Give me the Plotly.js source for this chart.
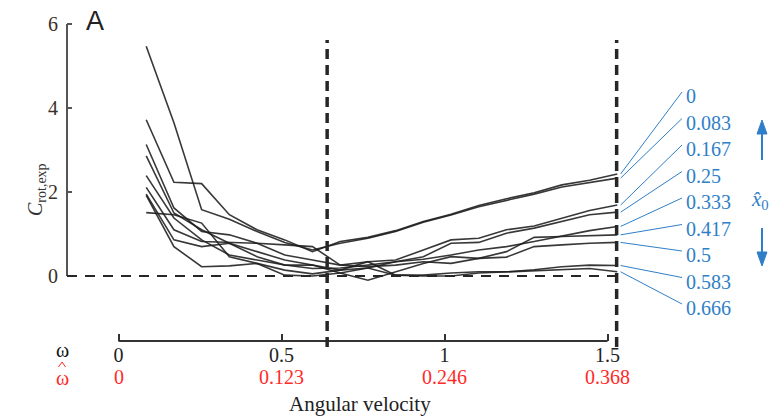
<!DOCTYPE html>
<html>
<head>
<meta charset="utf-8">
<script src="https://cdn.plot.ly/plotly-3.0.1.min.js"></script>
<style>html,body{margin:0;padding:0;background:#fff}#chart{width:770px;height:419px}</style>
</head>
<body>
<div id="chart"></div>
<script>
// angular velocity samples (omega)
const omega = [0.085, 0.17, 0.255, 0.34, 0.425, 0.51, 0.595, 0.68, 0.765, 0.85, 0.935, 1.02, 1.105, 1.19, 1.275, 1.36, 1.445, 1.53];
// C_rot,exp for each x0-hat
const c_x0_000 = [3.72, 2.23, 2.20, 1.46, 1.10, 0.86, 0.58, 0.82, 0.92, 1.08, 1.30, 1.47, 1.68, 1.84, 1.98, 2.17, 2.28, 2.43];
const c_x0_083 = [5.47, 3.65, 1.58, 1.35, 1.06, 0.80, 0.62, 0.78, 0.90, 1.06, 1.28, 1.45, 1.65, 1.80, 1.95, 2.12, 2.22, 2.33];
const c_x0_167 = [3.13, 1.62, 1.06, 0.98, 0.78, 0.50, 0.38, 0.26, 0.34, 0.38, 0.62, 0.86, 0.90, 1.10, 1.19, 1.38, 1.56, 1.69];
const c_x0_250 = [2.86, 1.50, 1.10, 0.78, 0.58, 0.38, 0.26, 0.14, 0.19, 0.34, 0.46, 0.78, 0.80, 1.02, 1.14, 1.30, 1.46, 1.52];
const c_x0_333 = [2.39, 1.38, 0.86, 0.50, 0.38, 0.26, 0.18, 0.19, 0.26, 0.34, 0.40, 0.50, 0.62, 0.70, 0.82, 0.95, 1.08, 1.18];
const c_x0_417 = [2.11, 1.10, 0.82, 0.80, 0.78, 0.74, 0.70, 0.26, 0.22, 0.26, 0.34, 0.30, 0.42, 0.58, 0.92, 0.94, 0.96, 0.98];
const c_x0_500 = [1.95, 0.86, 0.70, 0.78, 0.46, 0.26, 0.26, 0.07, -0.10, 0.10, 0.30, 0.46, 0.42, 0.45, 0.70, 0.74, 0.78, 0.80];
const c_x0_583 = [1.92, 0.70, 0.22, 0.24, 0.30, 0.14, 0.05, 0.14, 0.34, 0.02, 0.02, 0.07, 0.10, 0.10, 0.15, 0.22, 0.26, 0.25];
const c_x0_666 = [1.51, 1.46, 1.26, 0.46, 0.30, 0.02, 0.00, 0.07, 0.19, 0.02, 0.00, 0.00, 0.07, 0.10, 0.12, 0.16, 0.18, 0.10];
const x0Labels = ['0', '0.083', '0.167', '0.25', '0.333', '0.417', '0.5', '0.583', '0.666'];
const series = [c_x0_000, c_x0_083, c_x0_167, c_x0_250, c_x0_333, c_x0_417, c_x0_500, c_x0_583, c_x0_666];
// axis ticks
const omegaTicks = [0, 0.5, 1, 1.5];
const omegaTickText = ['0', '0.5', '1', '1.5'];
const omegaHatText = ['0', '0.123', '0.246', '0.368'];
const yTicks = [0, 2, 4, 6];
// reference lines
const omegaMarkers = [0.64, 1.528];

// ---------- layout geometry ----------
const W = 770, H = 419;
const mL = 67, mR = 145, mT = 20, mB = 78;
const plotW = W - mL - mR, plotH = H - mT - mB;
const pxPerX = 326, pxPerY = 42;
const xmin = -0.158, xmax = xmin + plotW / pxPerX;
const ymax = 6 + 4 / pxPerY, ymin = ymax - plotH / pxPerY;
const serif = '"Liberation Serif", "Times New Roman", serif';
const blue = '#2f7fc8', red = '#ff2a2a', ink = '#262626';
const FS = 20;

const paperX = px => (px - mL) / plotW;
const paperY = py => (H - mB - py) / plotH;
const xToPaper = x => (x - xmin) / (xmax - xmin);

const traces = series.map((ys, i) => ({
  type: 'scatter', mode: 'lines', x: omega, y: ys, name: x0Labels[i],
  line: {color: 'rgba(28,28,28,0.88)', width: 1.6}, showlegend: false, hoverinfo: 'x+y+name'
}));

const shapes = [];
// y axis line
shapes.push({type: 'line', xref: 'paper', yref: 'y', x0: 0, x1: 0, y0: 0, y1: 6, line: {color: '#555', width: 2}});
// x axis line
shapes.push({type: 'line', xref: 'x', yref: 'paper', x0: 0, x1: 1.5, y0: 0, y1: 0, line: {color: '#333', width: 2}});
// horizontal dashed zero line
shapes.push({type: 'line', xref: 'paper', yref: 'y', x0: 0, x1: xToPaper(omegaMarkers[1]), y0: 0, y1: 0, line: {color: ink, width: 2, dash: '10px,8px'}});
// vertical dashed lines
omegaMarkers.forEach(xv => shapes.push({type: 'line', xref: 'x', yref: 'paper', x0: xv, x1: xv,
  y0: paperY(347), y1: paperY(40), line: {color: ink, width: 3.5, dash: '10px,6px'}}));

const annotations = [];
const txt = (x, y, text, font, extra) => Object.assign({xref: 'paper', yref: 'paper', x: x, y: y, text: text,
  showarrow: false, xanchor: 'center', yanchor: 'middle', font: font}, extra || {});
// legend labels and leaders
const labelTop = 96, labelStep = 26.5, labelX = 684;
const endX = xToPaper(omegaMarkers[1]) + 4 / plotW;
x0Labels.forEach((lab, i) => {
  const ly = labelTop + i * labelStep;
  annotations.push(txt(paperX(labelX), paperY(ly), lab, {family: serif, size: FS, color: blue}, {xanchor: 'left'}));
  const last = series[i][series[i].length - 1];
  shapes.push({type: 'line', xref: 'paper', yref: 'paper', x0: endX, y0: (last - ymin) / (ymax - ymin),
    x1: paperX(labelX - 2), y1: paperY(ly - 4), line: {color: blue, width: 1}});
});
// x0-hat label and arrows (drawn as shapes)
annotations.push(txt(paperX(760), paperY(200), '<i>x̂</i><sub>0</sub>', {family: serif, size: 21, color: blue}));
const ax = paperX(762), hw = 5 / plotW;
shapes.push({type: 'line', xref: 'paper', yref: 'paper', x0: ax, x1: ax, y0: paperY(160), y1: paperY(132), line: {color: blue, width: 2}});
shapes.push({type: 'path', xref: 'paper', yref: 'paper', path: `M ${ax - hw} ${paperY(134)} L ${ax} ${paperY(120)} L ${ax + hw} ${paperY(134)} Z`,
  fillcolor: blue, line: {color: blue, width: 1}});
shapes.push({type: 'line', xref: 'paper', yref: 'paper', x0: ax, x1: ax, y0: paperY(228), y1: paperY(254), line: {color: blue, width: 2}});
shapes.push({type: 'path', xref: 'paper', yref: 'paper', path: `M ${ax - hw} ${paperY(252)} L ${ax} ${paperY(266)} L ${ax + hw} ${paperY(252)} Z`,
  fillcolor: blue, line: {color: blue, width: 1}});
// panel letter
annotations.push(txt(paperX(84), paperY(21), 'A', {family: '"Liberation Sans", Arial, sans-serif', size: 27, color: '#222'}, {xanchor: 'left'}));
// y title
annotations.push(txt(paperX(36), paperY(190), '<i>C</i><sub>rot,exp</sub>', {family: serif, size: 20, color: '#333'}, {textangle: -90}));
// omega row labels (hat over the red omega drawn as a small caret shape)
annotations.push(txt(paperX(62), paperY(350), 'ω', {family: serif, size: FS, color: '#111'}));
annotations.push(txt(paperX(62), paperY(378), 'ω', {family: serif, size: FS, color: red}));
shapes.push({type: 'path', xref: 'paper', yref: 'paper',
  path: `M ${paperX(58.5)} ${paperY(367)} L ${paperX(62)} ${paperY(362)} L ${paperX(65.5)} ${paperY(367)}`,
  line: {color: red, width: 1}});
// omega-hat tick row
omegaTicks.forEach((t, i) => annotations.push(txt(t, paperY(377), omegaHatText[i], {family: serif, size: FS, color: red}, {xref: 'x'})));
// x title
annotations.push(txt(0.74, paperY(404), 'Angular velocity', {family: serif, size: 21, color: '#222'}, {xref: 'x'}));

const layout = {
  width: W, height: H, margin: {l: mL, r: mR, t: mT, b: mB},
  paper_bgcolor: '#fff', plot_bgcolor: 'rgba(0,0,0,0)',
  xaxis: {range: [xmin, xmax], tickvals: omegaTicks, ticktext: omegaTickText, ticks: 'inside', ticklen: 7, tickwidth: 2,
    tickcolor: '#333', showline: false, zeroline: false, showgrid: false, automargin: false,
    tickfont: {family: serif, size: FS, color: '#222'}},
  yaxis: {range: [ymin, ymax], tickvals: yTicks, ticks: 'inside', ticklen: 5, tickwidth: 2, tickcolor: '#555',
    showline: false, zeroline: false, showgrid: false, automargin: false, ticklabelstandoff: 8,
    tickfont: {family: serif, size: FS, color: '#3a3028'}},
  shapes: shapes, annotations: annotations, showlegend: false
};
Plotly.newPlot('chart', traces, layout, {displayModeBar: false, staticPlot: true});
</script>
</body>
</html>
